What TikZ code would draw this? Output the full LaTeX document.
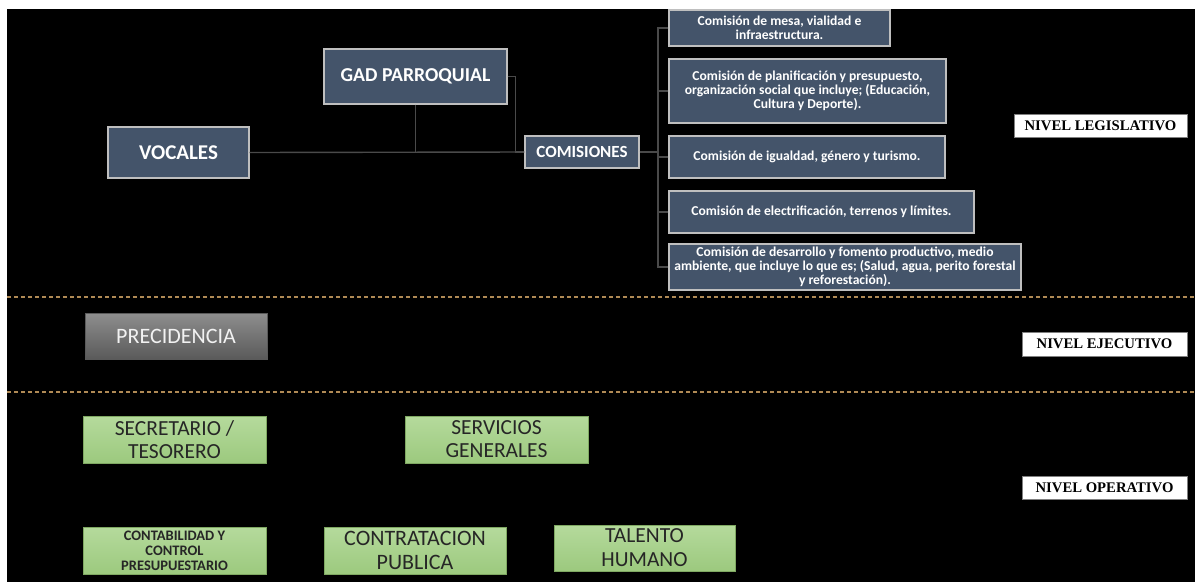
\documentclass[tikz,border=0pt]{standalone}
\usepackage{fontspec}
\newfontfamily\calfont{Carlito}
\newfontfamily\timesfont{Liberation Serif}
\definecolor{slate}{HTML}{44546A}
\definecolor{slateedge}{HTML}{BFBFBF}
\definecolor{connc}{HTML}{4A4A4A}
\definecolor{dashc}{HTML}{B08A55}
\definecolor{greentop}{HTML}{B5DA9C}
\definecolor{greenbot}{HTML}{9CC97E}
\definecolor{greenedge}{HTML}{7FA862}
\definecolor{greytop}{HTML}{8E8E8E}
\definecolor{greybot}{HTML}{5A5A5A}
\definecolor{darktext}{HTML}{262626}
\tikzset{
  slatebox/.style={draw=slateedge, line width=1.3pt, fill=slate, text=white, align=center, inner sep=1pt},
  greenbox/.style={draw=greenedge, line width=1pt, top color=greentop, bottom color=greenbot, text=darktext, align=center, inner sep=1pt},
  greybox/.style={draw=greybot, line width=1pt, top color=greytop, bottom color=greybot, text=white!95!black, align=center, inner sep=1pt},
  levelbox/.style={draw=gray, line width=0.8pt, fill=white, text=black, align=center, inner sep=1pt,
    font=\timesfont\bfseries\fontsize{14.7}{16}\selectfont},
  conn/.style={draw=connc, line width=1.4pt},
  sepline/.style={draw=dashc, line width=1.2pt, dash pattern=on 4pt off 3pt},
  comfont/.style={font=\calfont\bfseries\fontsize{13.6}{14}\selectfont}
}
\begin{document}
\begin{tikzpicture}[x=1pt,y=-1pt]
\useasboundingbox (0,0) rectangle (1195,582);
\fill[white] (0,0) rectangle (1195,582);
\fill[black] (7,9) rectangle (1195,582);

% separators
\draw[sepline] (7,297) -- (1195,297);
\draw[sepline] (7,392) -- (1195,392);

% legislative level
\node[slatebox, minimum width=141pt, minimum height=51pt, font=\calfont\bfseries\fontsize{21}{23}\selectfont] (voc) at (178.5,152.5) {VOCALES};
\node[slatebox, minimum width=183pt, minimum height=55pt, font=\calfont\bfseries\fontsize{19.7}{22}\selectfont] (gad) at (415.5,76.5) {GAD PARROQUIAL};
\node[slatebox, minimum width=114pt, minimum height=32pt, font=\calfont\bfseries\fontsize{17}{19}\selectfont] (com) at (582,152) {COMISIONES};

\node[slatebox, comfont, minimum width=221pt, minimum height=36pt] (c1) at (779.5,28) {Comisión de mesa, vialidad e\\infraestructura.};
\node[slatebox, comfont, minimum width=277pt, minimum height=64pt] (c2) at (807.5,91) {Comisión de planificación y presupuesto,\\organización social que incluye; (Educación,\\Cultura y Deporte).};
\node[slatebox, comfont, minimum width=276pt, minimum height=42pt] (c3) at (807,157) {Comisión de igualdad, género y turismo.};
\node[slatebox, comfont, minimum width=305pt, minimum height=42pt] (c4) at (821.5,212) {Comisión de electrificación, terrenos y límites.};
\node[slatebox, comfont, minimum width=352pt, minimum height=46pt] (c5) at (845,267) {Comisión de desarrollo y fomento productivo, medio\\ambiente, que incluye lo que es; (Salud, agua, perito forestal\\y reforestación).};

% connectors
\draw[conn] (voc.east) -- (com.west);
\draw[conn] (gad.south) -- (gad.south |- voc.east);
\draw[conn] (gad.east) -- ++(8,0) |- (com.west);
\coordinate (bus) at (658,152);
\draw[conn] (com.east) -- (bus);
\draw[conn] (c1.west) -- (c1.west -| bus) -- (c5.west -| bus) -- (c5.west);
\draw[conn] (c2.west) -- (c2.west -| bus);
\draw[conn] (c3.west) -- (c3.west -| bus);
\draw[conn] (c4.west) -- (c4.west -| bus);

% level labels
\node[levelbox, minimum width=173pt, minimum height=23pt] (nl) at (1100.5,125.5) {NIVEL LEGISLATIVO};
\node[levelbox, minimum width=165pt, minimum height=24pt] (ne) at (1104.5,344) {NIVEL EJECUTIVO};
\node[levelbox, minimum width=165pt, minimum height=23pt] (no) at (1104.5,487.5) {NIVEL OPERATIVO};

% executive
\node[greybox, minimum width=182pt, minimum height=46pt, font=\calfont\fontsize{22}{24}\selectfont] (prec) at (176,336) {PRECIDENCIA};

% operative
\node[greenbox, minimum width=183pt, minimum height=47pt, font=\calfont\fontsize{21.5}{23}\selectfont] (sec) at (174.5,439.5) {SECRETARIO /\\TESORERO};
\node[greenbox, minimum width=183pt, minimum height=47pt, font=\calfont\fontsize{21.5}{23}\selectfont] (serv) at (496.5,439.5) {SERVICIOS\\GENERALES};
\node[greenbox, minimum width=183pt, minimum height=47pt, font=\calfont\bfseries\fontsize{14.5}{15}\selectfont] (cont) at (174.5,550.5) {CONTABILIDAD Y\\CONTROL\\PRESUPUESTARIO};
\node[greenbox, minimum width=182pt, minimum height=47pt, font=\calfont\fontsize{22}{24}\selectfont] (contr) at (415,550.5) {CONTRATACION\\PUBLICA};
\node[greenbox, minimum width=181pt, minimum height=46pt, font=\calfont\fontsize{21.5}{24}\selectfont] (tal) at (644.5,548) {TALENTO\\HUMANO};
\end{tikzpicture}
\end{document}
